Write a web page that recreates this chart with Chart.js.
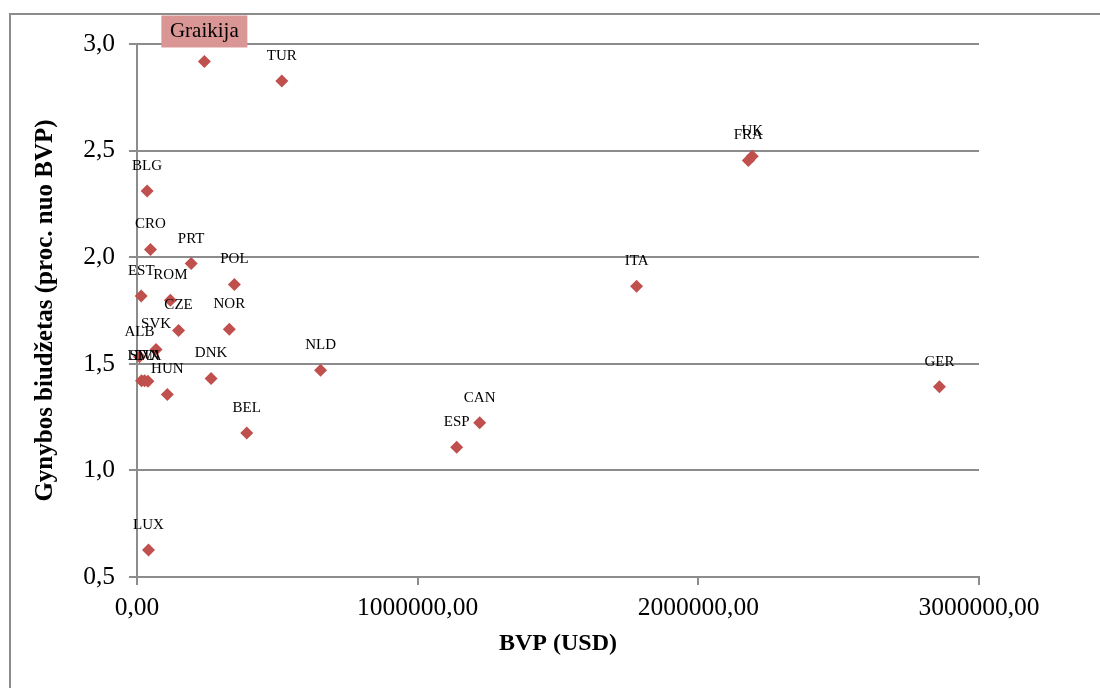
<!DOCTYPE html>
<html>
<head>
<meta charset="utf-8">
<title>Gynybos biudžetas ir BVP</title>
<script src="https://cdn.jsdelivr.net/npm/chart.js@4.4.1/dist/chart.umd.min.js"></script>
<style>
  html, body { margin: 0; padding: 0; background: #fff; }
  #wrap { width: 1100px; height: 688px; }
</style>
</head>
<body>
<div id="wrap"><canvas id="chart" width="1100" height="688"></canvas></div>
<script>
// Country codes, GDP (USD) and defence budget (% of GDP)
const countries = ['Graikija', 'TUR', 'UK', 'FRA', 'BLG', 'CRO', 'PRT', 'POL', 'EST', 'ROM',
    'CZE', 'NOR', 'SVK', 'ALB', 'LTU', 'SVN', 'LVA', 'HUN', 'DNK', 'NLD',
    'BEL', 'CAN', 'ESP', 'ITA', 'GER', 'LUX'];
const gdp = [240000, 516000, 2192000, 2178000, 36000, 48000, 193000, 347000, 15000, 119000,
    148000, 329000, 68000, 9000, 16000, 27000, 39000, 108000, 264000, 654000,
    391000, 1221000, 1139000, 1780000, 2859000, 41000];
const budget = [2.918, 2.826, 2.473, 2.454, 2.310, 2.036, 1.970, 1.872, 1.818, 1.798,
    1.656, 1.662, 1.567, 1.533, 1.421, 1.421, 1.418, 1.356, 1.431, 1.470,
    1.176, 1.223, 1.108, 1.864, 1.392, 0.627];
const highlighted = 'Graikija';

const xTicks = [0, 1000000, 2000000, 3000000];
const yTicks = [0.5, 1.0, 1.5, 2.0, 2.5, 3.0];

const gridGray = '#8c8c8c';
const serif = '"Liberation Serif", "Times New Roman", serif';

// outer chart border (runs off the right and bottom edges)
const frame = {
    id: 'frame',
    beforeDraw(chart) {
        const ctx = chart.ctx;
        ctx.save();
        ctx.strokeStyle = gridGray;
        ctx.lineWidth = 2;
        ctx.strokeRect(10, 14, 1300, 900);
        ctx.restore();
    }
};

// country labels above each marker
const pointLabels = {
    id: 'pointLabels',
    afterDatasetsDraw(chart) {
        const ctx = chart.ctx;
        const meta = chart.getDatasetMeta(0);
        ctx.save();
        ctx.textAlign = 'center';
        ctx.textBaseline = 'middle';
        meta.data.forEach((pt, i) => {
            const name = countries[i];
            if (name === highlighted) {
                ctx.font = '21px ' + serif;
                const w = 86, h = 32;
                const cy = pt.y - 30;
                ctx.fillStyle = '#d99694';
                ctx.fillRect(pt.x - w / 2, cy - h / 2, w, h);
                ctx.fillStyle = '#000';
                ctx.fillText(name, pt.x, cy);
            } else {
                ctx.font = '15px ' + serif;
                ctx.fillStyle = '#000';
                ctx.fillText(name, pt.x, pt.y - 25);
            }
        });
        ctx.restore();
    }
};

new Chart(document.getElementById('chart').getContext('2d'), {
    type: 'scatter',
    data: {
        datasets: [{
            data: gdp.map((g, i) => ({ x: g, y: budget[i] })),
            pointStyle: 'rectRot',
            pointRadius: 6.5,
            pointBackgroundColor: '#c0504d',
            pointBorderColor: '#c0504d',
            pointBorderWidth: 0,
            clip: false
        }]
    },
    options: {
        responsive: false,
        maintainAspectRatio: false,
        animation: false,
        layout: { padding: { left: 0, right: 121, top: 44, bottom: 0 } },
        plugins: {
            legend: { display: false },
            tooltip: { enabled: false }
        },
        scales: {
            x: {
                type: 'linear',
                min: 0,
                max: 3000000,
                afterFit(scale) { scale.height = 111; },
                afterBuildTicks(scale) { scale.ticks = xTicks.map(v => ({ value: v })); },
                ticks: {
                    padding: 8,
                    color: '#000',
                    font: { family: serif, size: 25.5 },
                    maxRotation: 0,
                    callback: v => v.toFixed(2).replace('.', ',')
                },
                grid: {
                    drawOnChartArea: false,
                    drawTicks: true,
                    tickLength: 8,
                    color: gridGray,
                    lineWidth: 2
                },
                border: { display: true, color: gridGray, width: 2 },
                title: {
                    display: true,
                    text: 'BVP (USD)',
                    color: '#000',
                    font: { family: serif, size: 24, weight: 'bold' },
                    padding: { top: 0, bottom: 30 }
                }
            },
            y: {
                type: 'linear',
                min: 0.5,
                max: 3.0,
                afterFit(scale) { scale.width = 137; },
                afterBuildTicks(scale) { scale.ticks = yTicks.map(v => ({ value: v })); },
                ticks: {
                    padding: 14,
                    color: '#000',
                    font: { family: serif, size: 25.5 },
                    callback: v => v.toFixed(1).replace('.', ',')
                },
                grid: {
                    drawTicks: true,
                    tickLength: 8,
                    color: gridGray,
                    lineWidth: 2
                },
                border: { display: true, color: gridGray, width: 2 },
                title: {
                    display: true,
                    text: 'Gynybos biudžetas (proc. nuo BVP)',
                    color: '#000',
                    font: { family: serif, size: 25, weight: 'bold' },
                    padding: { top: 31, bottom: 0 }
                }
            }
        }
    },
    plugins: [frame, pointLabels]
});
</script>
</body>
</html>
